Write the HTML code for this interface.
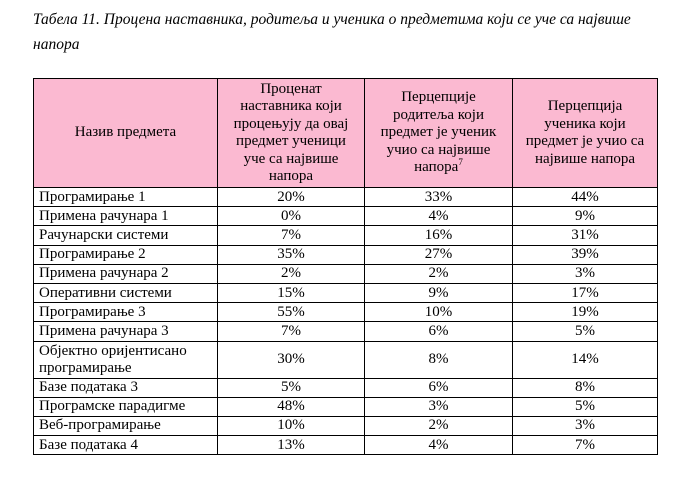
<!DOCTYPE html>
<html><head><meta charset="utf-8"><style>
body{margin:0;width:684px;height:479px;background:#fff;font-family:"Liberation Serif",serif;color:#000;position:relative;overflow:hidden}
.title{position:absolute;left:33px;top:7px;width:628px;font-style:italic;font-size:15.5px;line-height:25px}
table{position:absolute;left:33px;top:78px;border-collapse:collapse;font-size:15px;table-layout:fixed}
td,th{border:1.3px solid #000;padding:0;line-height:17px;overflow:hidden;white-space:nowrap}
th{background:#fbb9d1;font-weight:normal;text-align:center;height:108px;font-size:15px;line-height:17.5px;white-space:normal}
td{height:18.2px;text-align:center}
td.n{text-align:left;padding-left:5px}
tr.tall td{height:36px;white-space:normal}
sup{font-size:9px;line-height:0;vertical-align:6px}
</style></head><body>
<div class="title">Табела 11. Процена наставника, родитеља и ученика о предметима који се уче са највише напора</div>
<table>
<colgroup><col style="width:184px"><col style="width:147px"><col style="width:148px"><col style="width:145px"></colgroup>
<tr>
<th>Назив предмета</th>
<th>Проценат<br>наставника који<br>процењују да овај<br>предмет ученици<br>уче са највише<br>напора</th>
<th>Перцепције<br>родитеља који<br>предмет је ученик<br>учио са највише<br>напора<sup>7</sup></th>
<th>Перцепција<br>ученика који<br>предмет је учио са<br>највише напора</th>
</tr>
<tr><td class="n">Програмирање 1</td><td>20%</td><td>33%</td><td>44%</td></tr>
<tr><td class="n">Примена рачунара 1</td><td>0%</td><td>4%</td><td>9%</td></tr>
<tr><td class="n">Рачунарски системи</td><td>7%</td><td>16%</td><td>31%</td></tr>
<tr><td class="n">Програмирање 2</td><td>35%</td><td>27%</td><td>39%</td></tr>
<tr><td class="n">Примена рачунара 2</td><td>2%</td><td>2%</td><td>3%</td></tr>
<tr><td class="n">Оперативни системи</td><td>15%</td><td>9%</td><td>17%</td></tr>
<tr><td class="n">Програмирање 3</td><td>55%</td><td>10%</td><td>19%</td></tr>
<tr><td class="n">Примена рачунара 3</td><td>7%</td><td>6%</td><td>5%</td></tr>
<tr class="tall"><td class="n">Објектно оријентисано<br>програмирање</td><td>30%</td><td>8%</td><td>14%</td></tr>
<tr><td class="n">Базе података 3</td><td>5%</td><td>6%</td><td>8%</td></tr>
<tr><td class="n">Програмске парадигме</td><td>48%</td><td>3%</td><td>5%</td></tr>
<tr><td class="n">Веб-програмирање</td><td>10%</td><td>2%</td><td>3%</td></tr>
<tr><td class="n">Базе података 4</td><td>13%</td><td>4%</td><td>7%</td></tr>
</table>
</body></html>
